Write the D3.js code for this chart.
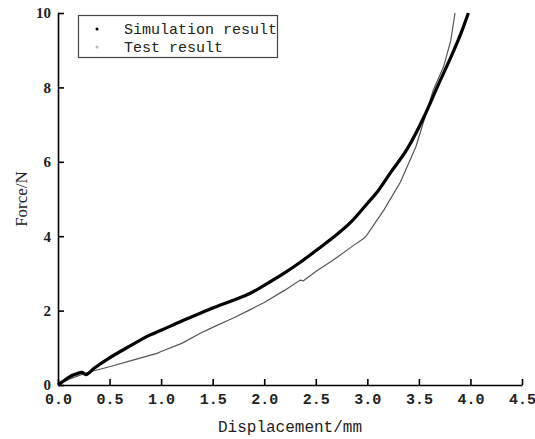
<!DOCTYPE html>
<html>
<head>
<meta charset="utf-8">
<script src="https://cdn.jsdelivr.net/npm/d3@7"></script>
<style>
  body { margin: 0; background: #fff; }
  svg { display: block; }
</style>
</head>
<body>
<svg id="chart" width="535" height="439"></svg>
<script>
// simulation curve (thick black)
const simX = [0, 0.05, 0.1, 0.2, 0.23, 0.27, 0.35, 0.5, 0.7, 0.89, 1.0, 1.15, 1.38, 1.5, 1.7, 1.86, 2.0, 2.19, 2.35, 2.51, 2.67, 2.83, 3.0, 3.1, 3.22, 3.39, 3.55, 3.68, 3.84, 3.92, 3.98];
const simY = [0, 0.1, 0.2, 0.32, 0.34, 0.28, 0.45, 0.73, 1.05, 1.34, 1.47, 1.66, 1.93, 2.07, 2.28, 2.46, 2.68, 3.0, 3.3, 3.63, 3.97, 4.35, 4.88, 5.2, 5.69, 6.36, 7.21, 8.02, 9.0, 9.54, 10.0];
// test curve (thin grey)
const testX = [0, 0.1, 0.3, 0.5, 0.7, 0.96, 1.0, 1.2, 1.38, 1.5, 1.7, 1.86, 2.0, 2.2, 2.35, 2.38, 2.5, 2.67, 2.85, 2.97, 3.0, 3.16, 3.32, 3.47, 3.64, 3.74, 3.81, 3.85];
const testY = [0, 0.15, 0.35, 0.49, 0.65, 0.85, 0.9, 1.12, 1.39, 1.55, 1.8, 2.02, 2.22, 2.55, 2.82, 2.8, 3.05, 3.36, 3.72, 3.95, 4.05, 4.7, 5.45, 6.4, 7.93, 8.56, 9.27, 10.0];

const xTicks = [0, 0.5, 1.0, 1.5, 2.0, 2.5, 3.0, 3.5, 4.0, 4.5];
const yTicks = [0, 2, 4, 6, 8, 10];
const seriesNames = ["Simulation result", "Test result"];

const svg = d3.select("#chart");
const margin = {left: 58, top: 13, right: 13, bottom: 54};
const width = 535, height = 439;

const x = d3.scaleLinear([0, 4.5], [margin.left, width - margin.right]);
const y = d3.scaleLinear([0, 10], [height - margin.bottom, margin.top]);

const mono = "'Liberation Mono', 'DejaVu Sans Mono', monospace";
const serif = "'Liberation Serif', 'DejaVu Serif', serif";

// x axis
const xAxis = svg.append("g")
  .attr("transform", `translate(0,${y(0)})`)
  .call(d3.axisBottom(x).tickValues(xTicks).tickSizeInner(-6).tickSizeOuter(0).tickPadding(8)
    .tickFormat(d3.format(".1f")));
xAxis.select(".domain").attr("stroke", "#000").attr("stroke-width", 1.6);
xAxis.selectAll(".tick line").attr("stroke-width", 1.6);
xAxis.selectAll("text")
  .attr("font-family", mono)
  .attr("font-size", 15)
  .attr("font-weight", "bold")
  .attr("fill", "#222");

// y axis
const yAxis = svg.append("g")
  .attr("transform", `translate(${x(0)},0)`)
  .call(d3.axisLeft(y).tickValues(yTicks).tickSizeInner(-6).tickSizeOuter(0).tickPadding(7));
yAxis.select(".domain").attr("stroke", "#000").attr("stroke-width", 1.6);
yAxis.selectAll(".tick line").attr("stroke-width", 1.6);
yAxis.selectAll("text")
  .attr("font-family", serif)
  .attr("font-size", 15)
  .attr("font-weight", "bold")
  .attr("fill", "#222");

// axis titles
svg.append("text")
  .attr("x", (x(0) + x(4.5)) / 2)
  .attr("y", 432)
  .attr("text-anchor", "middle")
  .attr("font-family", mono)
  .attr("font-size", 16)
  .attr("fill", "#222")
  .text("Displacement/mm");

svg.append("text")
  .attr("transform", `translate(27,${y(5)}) rotate(-90)`)
  .attr("text-anchor", "middle")
  .attr("font-family", serif)
  .attr("font-size", 17)
  .attr("fill", "#222")
  .text("Force/N");

const testLine = d3.line()
  .x(d => x(d[0]))
  .y(d => y(d[1]));

const simLine = d3.line()
  .x(d => x(d[0]))
  .y(d => y(d[1]))
  .curve(d3.curveMonotoneX);

const testData = testX.map((v, i) => [v, testY[i]]);
const simData = simX.map((v, i) => [v, simY[i]]);

svg.append("path")
  .datum(testData)
  .attr("fill", "none")
  .attr("stroke", "#555")
  .attr("stroke-width", 1.2)
  .attr("d", testLine);

svg.append("path")
  .datum(simData)
  .attr("fill", "none")
  .attr("stroke", "#000")
  .attr("stroke-width", 3.2)
  .attr("stroke-linejoin", "round")
  .attr("d", simLine);

// legend
const legend = svg.append("g");
legend.append("rect")
  .attr("x", 78.5).attr("y", 15.5)
  .attr("width", 199).attr("height", 42)
  .attr("fill", "#fff")
  .attr("stroke", "#444")
  .attr("stroke-width", 1.2);

const legendColors = ["#000", "#bbb"];
seriesNames.forEach((name, i) => {
  legend.append("circle")
    .attr("cx", 97).attr("cy", 29 + i * 18)
    .attr("r", 1.5)
    .attr("fill", legendColors[i]);
  legend.append("text")
    .attr("x", 124).attr("y", 34 + i * 18)
    .attr("font-family", mono)
    .attr("font-size", 15)
    .attr("fill", "#222")
    .text(name);
});
</script>
</body>
</html>
